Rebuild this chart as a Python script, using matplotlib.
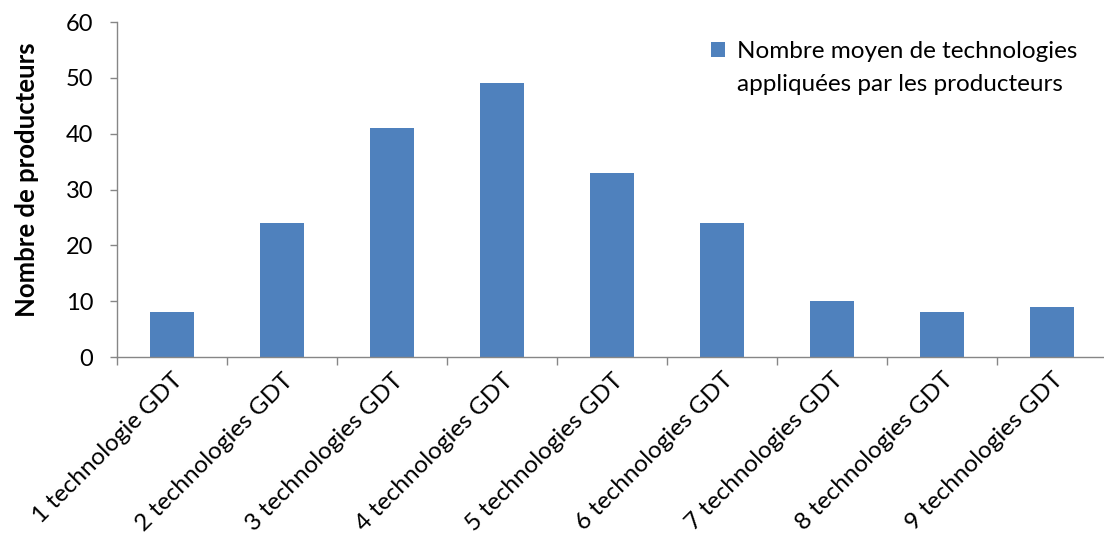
import matplotlib.pyplot as plt
import numpy as np
from matplotlib.patches import Rectangle
from matplotlib.legend_handler import HandlerPatch
from matplotlib.container import BarContainer

categories = ["1 technologie GDT", "2 technologies GDT", "3 technologies GDT",
              "4 technologies GDT", "5 technologies GDT", "6 technologies GDT",
              "7 technologies GDT", "8 technologies GDT", "9 technologies GDT"]
producteurs = [8, 24, 41, 49, 33, 24, 10, 8, 9]
y_ticks = [0, 10, 20, 30, 40, 50, 60]

plt.rcParams['font.family'] = ['Lato', 'DejaVu Sans']


def first_line_square(legend, orig_handle, xdescent, ydescent, width, height, fontsize):
    # square key lifted up to sit beside the first line of a two-line label
    side = 0.58 * fontsize
    return Rectangle((-xdescent, -ydescent + 0.78 * fontsize), side, side)


def copy_bar_style(handle, orig):
    handle.update_from(orig.patches[0])


fig = plt.figure(figsize=(11.04, 5.42), dpi=100)
ax = fig.add_axes([117 / 1104, 185 / 542, 990 / 1104, 335 / 542])

x = np.arange(len(categories))
bars = ax.bar(x, producteurs, width=0.4, color='#4f81bd',
              label="Nombre moyen de technologies\nappliquées par les producteurs")

ax.set_xlim(-0.5, len(categories) - 0.5)
ax.set_ylim(0, 60)
ax.set_yticks(y_ticks)
ax.tick_params(axis='y', labelsize=17, length=5, width=1, color='#868686', pad=12)

# category labels sit under the bars, tick marks sit between categories
ax.set_xticks(x)
ax.set_xticklabels(categories, rotation=45, ha='right', va='top',
                   rotation_mode='anchor', fontsize=17.5)
ax.tick_params(axis='x', which='major', length=0, pad=9)
ax.set_xticks(np.arange(-0.5, len(categories), 1), minor=True)
ax.tick_params(axis='x', which='minor', length=6, width=1, color='#868686')

for side in ['top', 'right']:
    ax.spines[side].set_visible(False)
for side in ['left', 'bottom']:
    ax.spines[side].set_color('#868686')
    ax.spines[side].set_linewidth(1)

ax.set_ylabel("Nombre de producteurs", fontsize=18.5, fontweight='bold')
ax.yaxis.set_label_coords(-0.079, 0.53)

leg = ax.legend(loc='upper left', bbox_to_anchor=(0.578, 1.01), frameon=False,
                fontsize=17.5, handlelength=0.6, handleheight=0.6, handletextpad=0.45,
                handler_map={BarContainer: HandlerPatch(patch_func=first_line_square,
                                                        update_func=copy_bar_style)})
leg.get_texts()[0].set_linespacing(1.75)

fig.savefig("out.png", dpi=100)
